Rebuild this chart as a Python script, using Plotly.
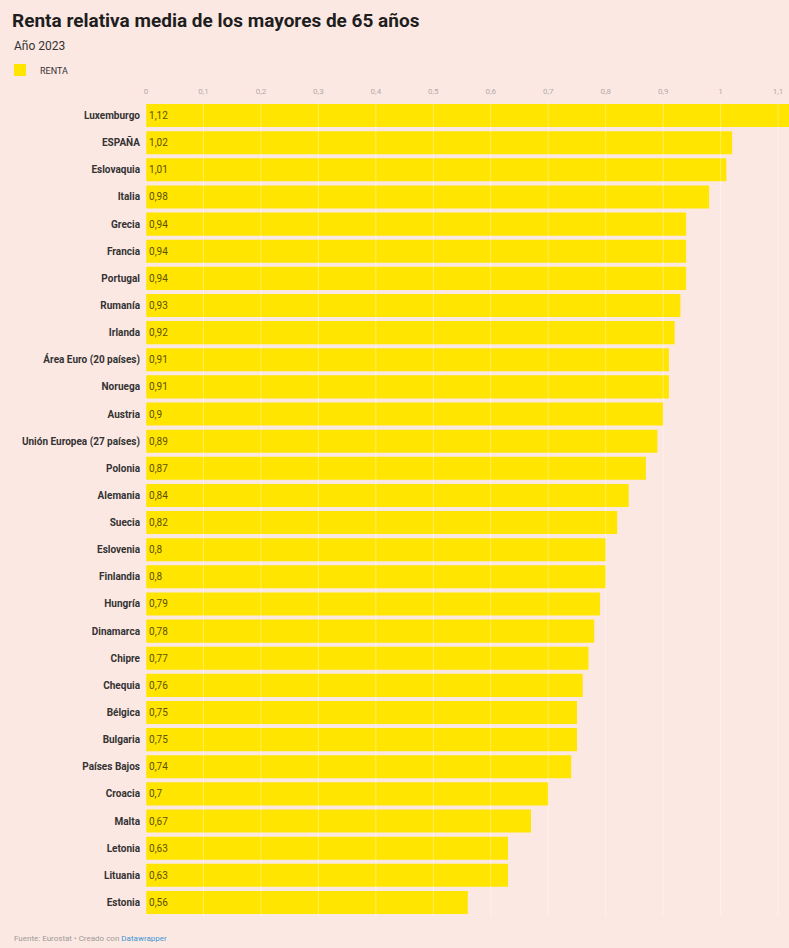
import plotly.graph_objects as go

countries = ["Luxemburgo", "ESPAÑA", "Eslovaquia", "Italia", "Grecia", "Francia", "Portugal",
             "Rumanía", "Irlanda", "Área Euro (20 países)", "Noruega", "Austria",
             "Unión Europea (27 países)", "Polonia", "Alemania", "Suecia", "Eslovenia",
             "Finlandia", "Hungría", "Dinamarca", "Chipre", "Chequia", "Bélgica", "Bulgaria",
             "Países Bajos", "Croacia", "Malta", "Letonia", "Lituania", "Estonia"]
renta = [1.12, 1.02, 1.01, 0.98, 0.94, 0.94, 0.94, 0.93, 0.92, 0.91, 0.91, 0.9, 0.89, 0.87,
         0.84, 0.82, 0.8, 0.8, 0.79, 0.78, 0.77, 0.76, 0.75, 0.75, 0.74, 0.7, 0.67, 0.63,
         0.63, 0.56]
tick_vals = [0, 0.1, 0.2, 0.3, 0.4, 0.5, 0.6, 0.7, 0.8, 0.9, 1.0, 1.1]
tick_text = ["0", "0,1", "0,2", "0,3", "0,4", "0,5", "0,6", "0,7", "0,8", "0,9", "1", "1,1"]

labels = [str(v).replace(".", ",") for v in renta]

W, H = 789, 948
L, R, T, B = 146, 0, 102, 32
PW, PH = W - L - R, H - T - B
BG = "#fce8e3"
YELLOW = "#ffe500"

fig = go.Figure()
fig.add_trace(go.Bar(
    x=renta, y=countries, orientation="h", name="RENTA",
    marker=dict(color=YELLOW, line=dict(width=0)),
    text=labels, textposition="inside", insidetextanchor="start",
    textfont=dict(family="Roboto", size=10, color="#5e5000"),
    constraintext="none", cliponaxis=True, hoverinfo="x+y",
))

# gridlines drawn over bars (faint)
for tv in tick_vals:
    fig.add_shape(type="line", xref="x", yref="paper", x0=tv, x1=tv, y0=0, y1=1,
                  line=dict(color="rgba(255,255,255,0.35)", width=1), layer="above")

px_x = lambda px: (px - L) / PW
px_y = lambda py: (H - B - py) / PH

fig.add_annotation(text="Año 2023", xref="paper", yref="paper", x=px_x(12), y=px_y(46),
                   xanchor="left", yanchor="middle", showarrow=False,
                   font=dict(family="Roboto", size=12, color="#333333"))
fig.add_annotation(text="Fuente: Eurostat • Creado con <span style='color:#3d97d3'>Datawrapper</span>",
                   xref="paper", yref="paper", x=px_x(12), y=px_y(938),
                   xanchor="left", yanchor="middle", showarrow=False,
                   font=dict(family="Roboto", size=8, color="#a09a98"))

fig.update_layout(
    width=W, height=H,
    margin=dict(l=L, r=R, t=T, b=B, pad=0),
    paper_bgcolor=BG, plot_bgcolor=BG,
    title=dict(text="<b>Renta relativa media de los mayores de 65 años</b>",
               xref="container", yref="container", x=12 / W, y=1 - 20 / H,
               xanchor="left", yanchor="middle",
               font=dict(family="Roboto", size=19, color="#1e1e1e")),
    showlegend=True,
    legend=dict(xref="container", yref="container", x=-0.009, y=1 - 70 / H,
                xanchor="left", yanchor="middle", orientation="h",
                font=dict(family="Roboto", size=9, color="#333333"),
                bgcolor="rgba(0,0,0,0)", itemclick=False),
    bargap=0.15,
    xaxis=dict(range=[0, 1.119], side="top", tickvals=tick_vals, ticktext=tick_text,
               showgrid=False, zeroline=False, showline=False, ticks="",
               ticklabelstandoff=5,
               tickfont=dict(family="Roboto", size=8, color="#b3aaa7"),
               fixedrange=True),
    yaxis=dict(categoryorder="array", categoryarray=countries, autorange="reversed",
               showgrid=False, zeroline=False, showline=False, ticks="",
               ticklabelstandoff=5,
               tickfont=dict(family="Roboto", size=10, color="#333333", weight="bold"),
               fixedrange=True),
    uniformtext=dict(minsize=9, mode="show"),
)

fig.write_html("out.html", config={"displayModeBar": False},
               post_script="document.body.style.margin='0';document.body.style.background='%s';" % BG)
